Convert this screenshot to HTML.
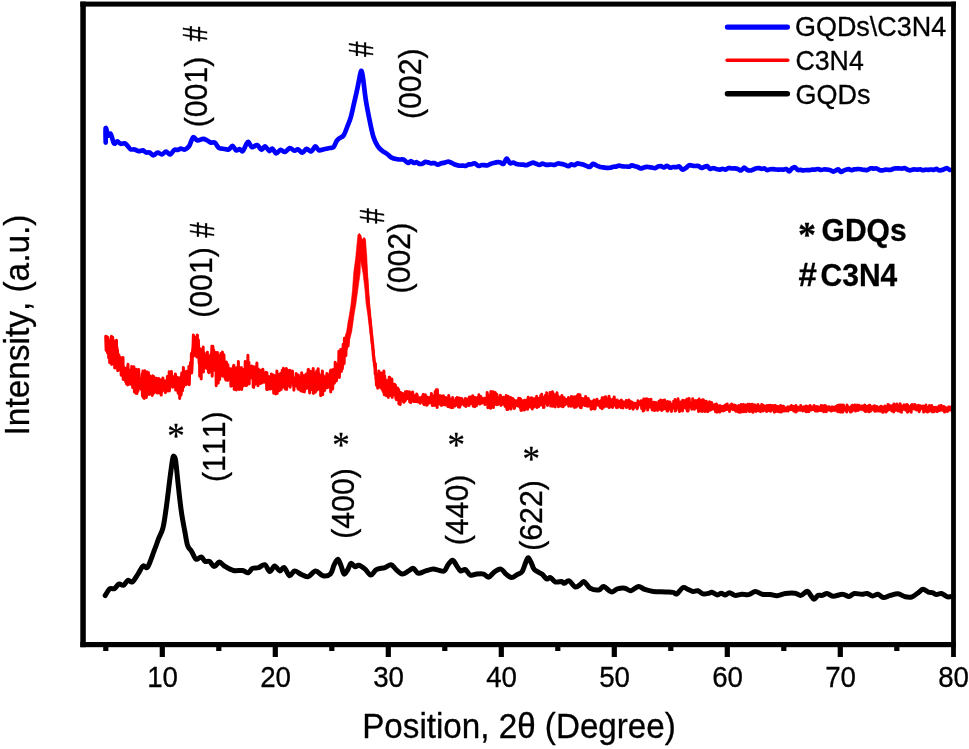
<!DOCTYPE html>
<html lang="en"><head><meta charset="utf-8"><title>XRD patterns</title>
<style>html,body{margin:0;padding:0;background:#fff}svg{display:block}text{font-kerning:none;font-variant-ligatures:none;stroke:#000;stroke-width:0.3px}</style>
</head><body>
<svg width="969" height="749" viewBox="0 0 969 749">
<rect width="969" height="749" fill="#fff"/>
<path d="M105.7 336.3L106.0 346.4L106.2 350.5L106.5 341.4L106.7 336.4L107.0 344.7L107.2 348.6L107.5 353.0L107.7 337.9L108.0 337.5L108.2 351.4L108.5 350.2L108.7 357.9L109.0 354.4L109.2 347.0L109.5 346.0L109.7 362.7L110.0 346.4L110.2 343.0L110.5 340.5L110.7 350.2L111.0 350.9L111.2 347.3L111.5 336.2L111.7 364.5L112.0 356.2L112.2 359.5L112.5 352.7L112.7 337.2L113.0 357.0L113.2 340.5L113.5 350.5L113.7 340.4L114.0 352.2L114.2 346.3L114.5 354.2L114.7 368.1L115.0 352.6L115.2 359.7L115.5 343.0L115.7 351.3L116.0 358.8L116.2 353.2L116.5 340.3L116.7 367.9L117.0 347.4L117.2 359.9L117.5 350.1L117.7 370.7L118.0 353.6L118.2 362.9L118.5 358.4L118.7 365.8L119.0 355.2L119.2 367.1L119.5 359.8L119.7 369.9L120.0 366.0L120.2 363.3L120.5 357.6L120.7 368.5L121.0 367.1L121.2 375.3L121.5 362.6L121.7 369.2L122.0 369.4L122.2 368.5L122.5 368.6L122.7 369.0L123.0 357.6L123.2 379.4L123.5 366.6L123.7 372.9L124.0 378.7L124.2 375.8L124.5 376.5L124.7 375.1L125.0 374.9L125.2 372.1L125.5 375.9L125.7 382.0L126.0 370.0L126.2 368.2L126.5 383.9L126.7 374.2L127.0 378.7L127.2 378.4L127.5 367.2L127.7 385.1L128.0 364.2L128.2 384.4L128.4 379.0L128.7 375.6L128.9 370.0L129.2 374.6L129.4 377.6L129.7 382.2L129.9 380.0L130.2 376.4L130.4 384.3L130.7 371.9L130.9 381.4L131.2 383.5L131.4 375.3L131.7 366.4L131.9 371.9L132.2 379.1L132.4 381.1L132.7 387.6L132.9 372.0L133.2 378.4L133.4 382.7L133.7 377.8L133.9 366.7L134.2 384.3L134.4 391.9L134.7 386.0L134.9 373.9L135.2 377.4L135.4 381.7L135.7 393.2L135.9 384.6L136.2 369.2L136.4 392.6L136.7 380.6L136.9 393.6L137.2 376.8L137.4 378.3L137.7 386.5L137.9 391.4L138.2 386.3L138.4 384.0L138.7 369.6L138.9 377.3L139.2 378.1L139.4 378.8L139.7 386.7L139.9 380.4L140.2 388.4L140.4 383.6L140.7 380.7L140.9 384.1L141.2 386.4L141.4 389.7L141.7 380.1L141.9 382.0L142.2 373.8L142.4 395.8L142.7 394.9L142.9 370.9L143.2 397.5L143.4 375.2L143.7 385.5L143.9 385.8L144.2 398.4L144.4 386.1L144.7 378.9L144.9 370.7L145.2 394.2L145.4 385.7L145.7 373.5L145.9 385.7L146.2 373.7L146.4 397.5L146.7 391.9L146.9 388.3L147.2 383.4L147.4 372.0L147.7 383.8L147.9 374.9L148.2 388.4L148.4 372.5L148.7 379.1L148.9 392.1L149.2 394.6L149.4 377.7L149.7 375.7L149.9 389.9L150.2 389.8L150.4 379.2L150.7 380.9L150.9 381.0L151.2 378.3L151.4 381.2L151.7 391.7L151.9 388.7L152.2 395.4L152.4 384.6L152.7 375.8L152.9 394.3L153.2 384.6L153.4 378.6L153.7 376.4L153.9 389.0L154.2 392.7L154.4 389.8L154.7 392.3L154.9 387.0L155.2 382.4L155.4 386.4L155.7 384.3L155.9 380.9L156.2 378.3L156.4 379.4L156.7 386.4L156.9 387.2L157.2 384.4L157.4 393.1L157.7 387.6L157.9 389.5L158.2 392.3L158.4 383.5L158.7 378.6L158.9 390.5L159.2 384.4L159.4 392.9L159.7 388.9L159.9 391.8L160.2 390.8L160.4 379.7L160.7 390.8L160.9 380.8L161.2 395.1L161.4 385.8L161.7 390.6L161.9 390.9L162.2 391.2L162.4 379.7L162.7 384.1L162.9 377.9L163.2 385.8L163.4 388.7L163.7 382.4L163.9 386.7L164.2 386.5L164.4 389.8L164.7 381.2L164.9 380.9L165.2 381.0L165.4 392.7L165.7 389.4L165.9 383.4L166.2 384.9L166.4 384.2L166.7 384.4L166.9 382.2L167.2 381.3L167.4 376.4L167.7 379.3L167.9 391.0L168.2 385.0L168.4 382.4L168.7 380.7L168.9 382.0L169.2 371.7L169.4 391.0L169.7 382.4L169.9 382.7L170.2 377.5L170.4 377.3L170.7 376.3L170.9 376.0L171.2 386.1L171.4 371.6L171.7 380.2L171.9 378.6L172.2 378.6L172.4 382.2L172.7 387.3L172.9 382.1L173.2 381.1L173.4 378.8L173.7 381.2L173.9 386.2L174.2 380.0L174.4 376.5L174.7 376.0L174.9 376.8L175.2 375.6L175.4 373.9L175.7 390.1L175.9 381.7L176.2 390.0L176.4 380.5L176.7 387.7L176.9 388.4L177.2 377.3L177.4 377.6L177.7 381.1L177.9 390.8L178.2 393.3L178.4 380.7L178.7 393.0L178.9 385.9L179.2 386.2L179.4 379.2L179.7 398.5L179.9 377.7L180.2 381.4L180.4 379.4L180.7 388.0L180.9 395.3L181.2 394.5L181.4 381.3L181.7 373.1L181.9 379.5L182.2 375.8L182.4 390.9L182.7 382.6L182.9 374.8L183.2 383.1L183.4 367.4L183.7 386.9L183.9 374.6L184.2 376.3L184.4 377.6L184.7 378.3L184.9 376.3L185.2 378.7L185.4 375.6L185.7 374.6L185.9 371.7L186.2 384.7L186.4 379.5L186.7 371.2L186.9 376.7L187.2 380.6L187.4 371.3L187.7 381.6L187.9 374.7L188.2 378.2L188.4 375.4L188.7 376.9L188.9 366.4L189.2 384.7L189.4 381.4L189.7 368.0L189.9 366.0L190.2 373.4L190.4 362.7L190.7 365.2L190.9 370.8L191.2 371.3L191.4 353.5L191.7 373.0L191.9 369.7L192.2 363.7L192.4 353.4L192.7 349.1L192.9 348.6L193.2 341.4L193.4 334.9L193.7 355.9L193.9 344.5L194.2 352.4L194.4 344.0L194.7 336.8L194.9 351.6L195.2 339.1L195.4 342.8L195.7 344.6L195.9 343.4L196.2 339.5L196.4 343.9L196.7 356.9L196.9 341.8L197.2 344.6L197.4 334.9L197.7 355.9L197.9 354.0L198.2 356.9L198.4 340.0L198.7 349.4L198.9 358.5L199.2 363.4L199.4 348.2L199.7 376.2L199.9 360.9L200.2 363.4L200.4 361.7L200.7 365.7L200.9 349.3L201.2 378.9L201.4 356.7L201.7 356.0L201.9 370.7L202.2 371.4L202.4 368.6L202.7 367.0L202.9 366.2L203.2 347.1L203.4 371.9L203.7 352.6L203.9 358.4L204.2 355.2L204.4 364.4L204.7 356.5L204.9 359.5L205.2 362.4L205.4 367.7L205.7 356.2L205.9 355.7L206.2 364.6L206.4 355.4L206.7 362.8L206.9 353.0L207.2 368.7L207.4 352.2L207.7 364.4L207.9 358.3L208.2 356.1L208.4 371.9L208.7 365.1L208.9 372.7L209.2 363.5L209.4 358.8L209.7 361.8L209.9 371.9L210.2 360.9L210.4 364.3L210.7 364.9L210.9 354.3L211.2 362.2L211.4 357.2L211.7 351.1L211.9 346.3L212.2 376.2L212.4 362.8L212.7 354.9L212.9 346.2L213.2 367.8L213.4 363.3L213.7 349.8L213.9 364.6L214.2 352.1L214.4 365.9L214.7 367.9L214.9 370.3L215.2 369.6L215.4 369.6L215.7 358.0L215.9 352.5L216.2 385.8L216.4 366.8L216.7 371.2L216.9 374.0L217.2 382.3L217.4 352.4L217.7 371.6L217.9 366.7L218.2 383.1L218.4 375.0L218.7 355.9L218.9 370.6L219.2 364.1L219.4 355.7L219.7 379.4L219.9 366.3L220.2 365.9L220.4 365.8L220.7 362.2L220.9 353.5L221.2 368.7L221.4 372.0L221.7 364.5L221.9 357.8L222.2 365.8L222.4 351.9L222.7 376.2L222.9 364.7L223.2 374.4L223.4 358.5L223.7 362.5L223.9 354.7L224.2 362.6L224.4 362.9L224.7 362.1L224.9 364.2L225.2 378.6L225.4 367.9L225.7 368.7L225.9 380.1L226.2 369.9L226.4 361.9L226.7 373.0L226.9 366.9L227.2 379.6L227.4 364.2L227.7 380.5L227.9 365.1L228.2 373.4L228.4 368.1L228.7 373.0L228.9 371.6L229.2 370.5L229.4 378.8L229.7 379.0L229.9 374.6L230.2 369.5L230.4 368.7L230.7 376.4L230.9 386.3L231.2 372.6L231.4 370.8L231.7 371.4L231.9 369.1L232.2 370.0L232.4 374.9L232.7 385.5L232.9 376.6L233.2 373.5L233.4 366.3L233.7 378.6L233.9 365.3L234.2 389.5L234.4 369.7L234.7 376.7L234.9 383.8L235.2 381.0L235.4 378.0L235.7 374.1L235.9 378.5L236.2 376.0L236.4 389.9L236.7 367.7L236.9 373.0L237.2 384.6L237.4 373.4L237.7 385.6L237.9 374.8L238.2 376.0L238.4 361.6L238.7 387.9L238.9 368.3L239.2 389.5L239.4 380.4L239.7 380.4L239.9 383.0L240.2 380.7L240.4 383.9L240.7 375.7L240.9 376.3L241.2 384.3L241.4 367.4L241.7 389.5L241.9 376.4L242.2 374.0L242.4 381.0L242.7 372.0L242.9 369.4L243.2 373.8L243.4 385.9L243.7 374.9L243.9 375.9L244.2 374.5L244.4 376.1L244.7 380.2L244.9 383.1L245.2 361.4L245.4 382.3L245.7 372.3L245.9 369.6L246.2 385.8L246.4 369.9L246.7 385.2L246.9 377.6L247.2 362.4L247.4 373.4L247.7 374.9L247.9 355.2L248.2 382.6L248.4 367.0L248.7 368.6L248.9 362.3L249.2 383.9L249.4 369.4L249.7 368.8L249.9 369.8L250.2 367.0L250.4 367.5L250.7 373.7L250.9 375.5L251.2 370.6L251.4 373.7L251.7 366.0L251.9 378.2L252.2 370.9L252.4 377.1L252.7 370.9L252.9 366.4L253.2 386.9L253.4 369.3L253.7 387.4L253.9 375.7L254.2 375.3L254.4 371.3L254.7 384.6L254.9 383.2L255.2 376.7L255.4 366.8L255.7 371.6L255.9 378.0L256.2 371.2L256.4 367.1L256.7 366.9L256.9 363.1L257.2 384.1L257.4 370.2L257.7 374.3L257.9 385.7L258.2 384.7L258.4 369.0L258.7 377.0L258.9 375.7L259.2 374.7L259.4 381.4L259.7 374.1L259.9 374.3L260.2 374.3L260.4 376.0L260.7 383.5L260.9 381.0L261.2 370.2L261.4 375.1L261.7 373.5L261.9 381.9L262.2 379.1L262.4 382.7L262.7 378.1L262.9 369.2L263.2 381.1L263.4 380.2L263.7 381.7L263.9 373.2L264.2 380.1L264.4 376.7L264.7 376.9L264.9 382.0L265.2 382.2L265.4 376.7L265.7 373.2L265.9 372.4L266.2 378.8L266.4 373.7L266.7 389.4L266.9 372.8L267.2 377.7L267.4 383.5L267.7 389.4L267.9 387.1L268.2 383.4L268.4 382.6L268.7 376.6L268.9 379.5L269.2 380.1L269.4 377.9L269.7 382.1L269.9 379.8L270.2 383.5L270.4 389.1L270.7 385.6L270.9 384.0L271.2 380.6L271.4 373.9L271.7 381.3L271.9 384.8L272.2 376.5L272.4 388.8L272.7 380.1L272.9 384.0L273.2 380.2L273.4 375.0L273.7 393.2L273.9 375.4L274.2 387.4L274.4 378.9L274.7 383.7L274.9 377.4L275.2 379.7L275.4 387.6L275.7 393.9L275.9 377.0L276.2 382.3L276.4 388.0L276.7 378.3L276.9 371.1L277.2 393.4L277.4 385.9L277.7 384.7L277.9 389.4L278.2 384.1L278.4 374.4L278.7 385.7L278.9 374.8L279.2 386.1L279.4 390.7L279.7 384.9L279.9 377.8L280.2 388.4L280.4 382.0L280.7 373.3L280.9 378.7L281.2 389.4L281.4 378.8L281.7 381.3L281.9 378.4L282.2 370.2L282.4 377.2L282.7 382.4L282.9 381.4L283.2 379.0L283.4 368.2L283.7 387.2L283.9 384.1L284.2 385.8L284.4 387.3L284.7 376.9L284.9 375.8L285.2 381.2L285.4 389.1L285.7 369.2L285.9 377.7L286.2 374.8L286.4 368.4L286.7 389.4L286.9 377.3L287.2 372.0L287.4 379.5L287.7 377.6L287.9 370.6L288.2 384.4L288.4 376.6L288.7 383.3L288.9 372.4L289.2 385.6L289.4 372.0L289.7 385.5L289.9 370.2L290.2 387.3L290.4 378.1L290.7 372.0L290.9 379.0L291.2 382.0L291.4 375.3L291.7 377.9L291.9 381.8L292.2 379.7L292.4 370.9L292.7 378.6L292.9 382.8L293.2 382.2L293.4 385.7L293.7 377.7L293.9 390.2L294.2 384.8L294.4 382.6L294.7 386.2L294.9 385.6L295.2 381.8L295.4 378.7L295.7 386.0L295.9 383.4L296.2 373.4L296.4 376.9L296.7 383.8L296.9 382.3L297.2 383.1L297.4 384.6L297.7 382.7L297.9 388.6L298.2 379.8L298.4 375.1L298.7 389.4L298.9 385.3L299.2 385.5L299.4 388.4L299.7 380.1L299.9 387.1L300.2 384.1L300.4 377.5L300.7 381.4L300.9 390.9L301.2 385.6L301.4 379.8L301.7 372.8L301.9 378.4L302.2 378.5L302.4 382.3L302.7 391.4L302.9 385.5L303.2 383.4L303.4 377.1L303.7 375.7L303.9 380.7L304.2 379.3L304.4 392.0L304.7 379.5L304.9 378.4L305.2 387.7L305.4 382.0L305.7 374.8L305.9 388.7L306.2 379.8L306.4 374.0L306.7 383.3L306.9 384.3L307.2 379.5L307.4 385.5L307.7 386.2L307.9 376.1L308.2 369.6L308.4 369.4L308.7 380.5L308.9 388.9L309.2 387.5L309.4 389.9L309.7 392.9L309.9 381.3L310.2 387.9L310.4 371.3L310.7 385.6L310.9 383.7L311.2 380.5L311.4 378.1L311.7 373.5L311.9 382.0L312.2 389.7L312.4 378.4L312.7 384.6L312.9 376.3L313.2 368.4L313.4 393.4L313.7 383.7L313.9 379.6L314.2 383.3L314.4 377.0L314.7 373.1L314.9 379.0L315.2 388.5L315.4 392.3L315.7 379.2L315.9 387.0L316.2 386.8L316.4 384.3L316.7 371.0L316.9 384.0L317.2 375.2L317.4 389.9L317.7 387.3L317.9 386.2L318.2 368.7L318.4 386.3L318.7 386.9L318.9 373.5L319.2 388.8L319.4 382.8L319.7 381.1L319.9 377.6L320.2 375.6L320.4 379.6L320.7 395.7L320.9 384.0L321.2 384.1L321.4 378.4L321.7 378.7L321.9 379.2L322.2 377.0L322.4 371.1L322.7 394.8L322.9 388.6L323.2 375.2L323.4 388.9L323.7 382.6L323.9 387.0L324.2 382.0L324.4 376.9L324.7 390.4L324.9 379.7L325.2 381.6L325.4 376.8L325.7 383.7L325.9 379.9L326.2 384.1L326.4 384.4L326.7 377.9L326.9 373.4L327.2 384.8L327.4 387.8L327.7 386.4L327.9 375.0L328.2 385.7L328.4 384.3L328.7 383.6L328.9 384.5L329.2 379.9L329.4 383.1L329.7 387.3L329.9 378.7L330.2 373.1L330.4 371.1L330.7 392.1L330.9 369.9L331.2 376.4L331.4 383.6L331.7 378.7L331.9 379.8L332.2 371.1L332.4 384.1L332.7 389.0L332.9 376.4L333.2 372.6L333.4 369.4L333.7 382.2L333.9 376.7L334.2 370.4L334.4 383.2L334.7 379.9L334.9 378.4L335.2 362.2L335.4 372.7L335.7 377.0L335.9 363.8L336.2 378.0L336.4 380.9L336.7 377.6L336.9 364.7L337.2 364.2L337.4 375.2L337.7 375.0L337.9 376.2L338.2 375.4L338.4 365.4L338.7 362.4L338.9 351.2L339.2 369.6L339.4 377.5L339.7 359.1L339.9 358.2L340.2 365.7L340.4 362.9L340.7 349.5L340.9 353.5L341.2 350.0L341.4 371.6L341.7 351.5L341.9 362.2L342.2 369.1L342.4 368.2L342.7 364.2L342.9 364.9L343.2 344.3L343.4 349.8L343.7 346.6L343.9 348.9L344.2 363.6L344.4 338.3L344.7 352.8L344.9 339.6L345.2 355.4L345.4 353.9L345.7 340.9L345.9 355.6L346.2 342.3L346.4 348.8L346.7 341.4L346.9 335.1L347.2 335.4L347.4 336.2L347.7 339.7L347.9 336.0L348.2 345.9L348.4 332.5L348.7 330.1L348.9 327.9L349.2 326.5L349.4 321.2L349.7 322.1L349.9 331.1L350.2 324.8L350.4 321.9L350.7 323.2L350.9 325.6L351.2 321.5L351.4 320.8L351.7 311.7L351.9 311.8L352.2 307.3L352.4 309.3L352.7 303.3L352.9 303.8L353.2 303.0L353.4 300.8L353.7 298.6L353.9 295.4L354.2 303.5L354.4 292.3L354.7 286.6L354.9 291.4L355.2 282.3L355.4 279.9L355.7 284.0L355.9 271.7L356.2 267.6L356.4 277.8L356.7 279.5L356.9 261.9L357.2 263.8L357.4 269.7L357.7 253.0L357.9 256.4L358.2 252.1L358.4 253.8L358.7 244.0L358.9 251.2L359.2 244.6L359.4 242.0L359.7 237.6L359.9 236.0L360.2 238.2L360.4 238.5L360.7 240.6L360.9 241.0L361.2 242.5L361.4 243.8L361.7 245.9L361.9 246.7L362.2 244.1L362.4 244.4L362.7 245.0L362.9 243.4L363.2 241.7L363.4 241.5L363.7 240.6L363.9 240.7L364.2 243.6L364.4 248.2L364.7 254.1L364.9 255.5L365.2 260.1L365.4 263.0L365.7 266.3L365.9 272.2L366.2 274.8L366.4 279.4L366.7 278.6L366.9 283.0L367.2 288.7L367.4 291.5L367.7 294.5L367.9 297.6L368.2 299.8L368.4 302.9L368.7 306.1L368.9 310.2L369.2 312.3L369.4 315.5L369.7 319.1L369.9 318.6L370.2 321.3L370.4 325.2L370.7 326.6L370.9 329.0L371.2 333.8L371.4 334.4L371.7 335.8L371.9 339.9L372.2 343.4L372.4 342.2L372.7 345.2L372.9 348.7L373.2 350.1L373.4 356.4L373.7 356.8L373.9 357.9L374.2 361.8L374.4 361.5L374.7 363.4L374.9 366.8L375.2 374.1L375.4 363.6L375.7 373.3L375.9 378.9L376.2 378.5L376.4 385.2L376.7 379.2L376.9 378.5L377.2 377.8L377.4 374.8L377.7 388.3L377.9 374.2L378.2 380.5L378.4 378.9L378.7 377.6L378.9 370.9L379.2 379.9L379.4 383.0L379.7 383.0L379.9 387.2L380.2 381.3L380.4 378.5L380.7 384.2L380.9 386.5L381.2 376.9L381.4 373.1L381.7 376.2L381.9 389.2L382.2 389.0L382.4 377.1L382.7 383.5L382.9 388.2L383.2 391.5L383.4 378.6L383.7 381.3L383.9 371.1L384.2 394.8L384.4 393.3L384.7 376.1L384.9 386.5L385.2 381.9L385.4 383.6L385.7 380.0L385.9 381.3L386.2 384.4L386.4 395.8L386.7 389.1L386.9 387.6L387.2 385.3L387.4 380.8L387.7 384.1L387.9 393.0L388.2 390.7L388.4 397.4L388.7 387.7L388.9 386.2L389.2 377.3L389.4 388.9L389.7 377.2L389.9 395.4L390.2 383.7L390.4 387.3L390.7 380.2L390.9 385.0L391.2 382.9L391.4 393.9L391.7 389.5L391.9 379.1L392.2 397.5L392.4 388.7L392.7 386.9L392.9 384.1L393.2 392.9L393.4 389.4L393.7 391.1L393.9 388.1L394.2 388.5L394.4 389.4L394.7 384.3L394.9 395.1L395.2 394.4L395.4 384.9L395.7 393.6L395.9 398.6L396.2 394.8L396.4 399.8L396.7 393.2L396.9 394.7L397.2 389.4L397.4 391.5L397.7 387.9L397.9 392.2L398.2 397.3L398.4 398.7L398.7 389.5L398.9 404.1L399.2 392.8L399.4 398.5L399.7 396.2L399.9 403.8L400.2 404.5L400.4 400.5L400.7 392.4L400.9 394.8L401.2 397.5L401.4 394.1L401.7 398.8L401.9 399.4L402.2 399.9L402.4 397.6L402.7 393.6L402.9 393.8L403.2 396.4L403.4 401.5L403.7 402.3L403.9 400.2L404.2 398.1L404.4 399.1L404.7 399.6L404.9 401.2L405.2 399.7L405.4 391.8L405.7 399.9L405.9 398.1L406.2 395.4L406.4 398.5L406.7 397.7L406.9 396.7L407.2 391.6L407.4 397.2L407.7 398.5L407.9 396.7L408.2 392.1L408.4 398.2L408.7 398.9L408.9 397.4L409.2 398.1L409.4 391.8L409.7 401.9L409.9 398.4L410.2 396.0L410.4 397.6L410.7 402.6L410.9 399.1L411.2 397.6L411.4 392.7L411.7 397.6L411.9 399.5L412.2 395.4L412.4 396.8L412.7 391.9L412.9 399.1L413.2 395.9L413.4 399.6L413.7 401.5L413.9 397.3L414.2 400.6L414.4 398.5L414.7 397.3L414.9 397.1L415.2 395.6L415.4 401.6L415.7 400.6L415.9 395.3L416.2 400.5L416.4 396.2L416.7 394.0L416.9 401.7L417.2 394.8L417.4 401.8L417.7 399.0L417.9 401.1L418.2 400.0L418.4 401.9L418.7 399.6L418.9 400.3L419.2 399.5L419.4 401.9L419.7 397.8L419.9 401.8L420.2 403.2L420.4 398.8L420.7 400.3L420.9 397.7L421.2 398.4L421.4 399.9L421.7 398.3L421.9 396.8L422.2 399.3L422.4 399.9L422.7 400.4L422.9 401.5L423.2 394.6L423.4 403.6L423.7 399.2L423.9 394.7L424.2 404.7L424.4 400.9L424.7 402.2L424.9 398.6L425.2 400.1L425.4 394.8L425.7 400.1L425.9 399.2L426.2 398.2L426.4 402.4L426.7 405.3L426.9 402.9L427.2 396.9L427.4 404.6L427.7 398.4L427.9 399.3L428.2 397.5L428.4 401.1L428.7 401.4L428.9 399.9L429.2 398.7L429.4 398.9L429.7 397.9L429.9 403.0L430.2 397.4L430.4 398.8L430.7 398.5L430.9 396.4L431.2 398.4L431.4 393.5L431.7 400.9L431.9 401.5L432.2 398.0L432.4 405.6L432.7 395.8L432.9 401.5L433.2 401.2L433.4 396.9L433.7 398.1L433.9 403.0L434.2 399.4L434.4 400.4L434.7 405.4L434.9 400.1L435.2 391.5L435.4 395.7L435.7 402.9L435.9 398.5L436.2 394.0L436.4 389.7L436.7 400.6L436.9 390.4L437.2 407.6L437.4 389.8L437.7 401.5L437.9 396.7L438.2 397.9L438.4 397.9L438.7 395.3L438.9 401.5L439.2 403.7L439.4 401.2L439.7 397.2L439.9 404.3L440.2 399.3L440.4 402.3L440.7 395.8L440.9 402.7L441.2 403.1L441.4 405.5L441.7 400.2L441.9 402.0L442.2 397.8L442.4 403.9L442.7 403.5L442.9 404.7L443.2 398.9L443.4 395.7L443.7 400.3L443.9 399.8L444.2 397.8L444.4 403.0L444.7 404.4L444.9 402.3L445.2 405.0L445.4 402.4L445.7 397.4L445.9 398.9L446.2 399.8L446.4 403.6L446.7 404.5L446.9 401.8L447.2 404.9L447.4 398.6L447.7 401.1L447.9 406.6L448.2 403.0L448.4 405.1L448.7 395.5L448.9 396.3L449.2 399.0L449.4 405.1L449.7 407.0L449.9 400.0L450.2 399.0L450.4 399.0L450.7 399.4L450.9 403.9L451.2 401.3L451.4 407.8L451.7 404.4L451.9 400.5L452.2 403.1L452.4 402.1L452.7 397.6L452.9 407.6L453.2 401.6L453.4 405.0L453.7 404.1L453.9 402.3L454.2 403.2L454.4 404.4L454.7 401.6L454.9 400.6L455.2 405.9L455.4 402.4L455.7 400.8L455.9 403.7L456.2 398.3L456.4 402.5L456.7 398.6L456.9 401.1L457.2 397.4L457.4 400.3L457.7 404.7L457.9 401.8L458.2 398.9L458.4 407.0L458.7 400.5L458.9 406.3L459.2 400.7L459.4 398.1L459.7 407.2L459.9 400.9L460.2 404.2L460.4 405.4L460.7 398.5L460.9 402.2L461.2 400.5L461.4 403.7L461.7 402.0L461.9 398.5L462.2 402.1L462.4 404.0L462.7 401.1L462.9 403.5L463.2 400.4L463.4 401.7L463.7 402.8L463.9 402.2L464.2 405.3L464.4 404.4L464.7 404.1L464.9 403.8L465.2 402.2L465.4 398.5L465.7 404.6L465.9 406.5L466.2 402.3L466.4 401.0L466.7 401.6L466.9 405.0L467.2 402.4L467.4 398.9L467.7 401.1L467.9 399.5L468.2 401.0L468.4 399.1L468.7 399.1L468.9 405.6L469.2 404.4L469.4 397.1L469.7 398.8L469.9 400.2L470.2 400.3L470.4 397.6L470.7 403.8L470.9 396.9L471.2 403.2L471.4 403.2L471.7 400.3L471.9 399.5L472.2 401.4L472.4 401.7L472.7 395.7L472.9 396.2L473.2 406.2L473.4 400.9L473.7 400.0L473.9 398.4L474.2 399.1L474.4 398.9L474.7 406.8L474.9 397.5L475.2 405.5L475.4 402.4L475.7 401.7L475.9 401.6L476.2 399.9L476.4 405.8L476.7 402.5L476.9 400.8L477.2 400.5L477.4 401.5L477.7 397.3L477.9 399.9L478.2 398.9L478.4 402.8L478.7 402.7L478.9 394.8L479.2 400.1L479.4 404.0L479.7 396.5L479.9 396.8L480.2 404.0L480.4 400.2L480.7 399.2L480.9 396.6L481.2 401.2L481.4 398.7L481.7 401.3L481.9 402.0L482.2 403.0L482.4 399.4L482.7 398.7L482.9 400.6L483.2 400.1L483.4 401.1L483.7 398.5L483.9 399.6L484.2 398.3L484.4 398.2L484.7 400.9L484.9 404.6L485.2 398.4L485.4 402.5L485.7 401.6L485.9 400.7L486.2 402.8L486.4 398.1L486.7 402.4L486.9 401.3L487.2 392.4L487.4 401.5L487.7 402.5L487.9 407.8L488.2 395.9L488.4 400.5L488.7 401.5L488.9 396.2L489.2 404.8L489.4 401.8L489.7 396.8L489.9 395.1L490.2 398.3L490.4 408.2L490.7 408.2L490.9 391.6L491.2 392.3L491.4 402.7L491.7 399.4L491.9 397.1L492.2 402.4L492.4 400.2L492.7 401.0L492.9 400.9L493.2 391.8L493.4 407.6L493.7 397.8L493.9 404.7L494.2 402.9L494.4 400.1L494.7 400.6L494.9 399.9L495.2 392.4L495.4 398.8L495.7 402.0L495.9 393.6L496.2 394.2L496.4 404.8L496.7 403.8L496.9 394.2L497.2 402.4L497.4 400.4L497.7 404.6L497.9 399.4L498.2 399.9L498.4 397.8L498.7 401.6L498.9 400.4L499.2 398.4L499.4 399.7L499.7 398.1L499.9 403.6L500.2 397.2L500.4 395.2L500.7 397.6L500.9 405.5L501.2 399.5L501.4 403.9L501.7 404.3L501.9 399.6L502.2 404.4L502.4 403.5L502.7 401.5L502.9 399.2L503.2 401.6L503.4 397.2L503.7 400.9L503.9 399.9L504.2 403.6L504.4 403.3L504.7 399.8L504.9 405.3L505.2 406.5L505.4 402.5L505.7 399.7L505.9 404.1L506.2 395.5L506.4 400.5L506.7 404.5L506.9 409.4L507.2 400.1L507.4 407.9L507.7 409.5L507.9 409.1L508.2 396.2L508.4 406.6L508.7 403.6L508.9 406.4L509.2 402.5L509.4 401.1L509.7 402.4L509.9 408.1L510.2 406.0L510.4 402.4L510.7 397.6L510.9 409.1L511.2 405.3L511.4 403.4L511.7 401.4L511.9 401.2L512.2 402.2L512.5 401.9L512.7 398.6L513.0 399.2L513.2 406.5L513.5 400.2L513.7 399.6L514.0 403.7L514.2 408.5L514.5 407.9L514.7 402.6L515.0 400.7L515.2 402.3L515.5 401.2L515.7 402.3L516.0 405.7L516.2 400.8L516.5 401.7L516.7 403.4L517.0 404.2L517.2 401.9L517.5 401.8L517.7 400.8L518.0 402.0L518.2 406.1L518.5 403.7L518.7 398.2L519.0 406.5L519.2 404.4L519.5 401.9L519.7 403.9L520.0 398.4L520.2 399.5L520.5 408.5L520.7 399.1L521.0 410.5L521.2 402.4L521.5 404.8L521.7 407.1L522.0 400.7L522.2 410.1L522.5 402.2L522.7 405.6L523.0 400.7L523.2 405.5L523.5 404.3L523.7 407.7L524.0 400.5L524.2 404.1L524.5 409.9L524.7 400.3L525.0 405.2L525.2 405.4L525.5 402.4L525.7 403.0L526.0 408.3L526.2 407.4L526.5 405.6L526.7 404.6L527.0 400.1L527.2 403.9L527.5 409.3L527.7 406.9L528.0 399.1L528.2 397.2L528.5 401.3L528.7 403.9L529.0 401.5L529.2 402.3L529.5 404.3L529.7 406.0L530.0 403.8L530.2 407.1L530.5 398.5L530.7 404.5L531.0 404.3L531.2 398.1L531.5 406.8L531.7 397.7L532.0 398.1L532.2 409.0L532.5 406.8L532.7 403.8L533.0 406.9L533.2 406.2L533.5 398.9L533.7 404.0L534.0 406.9L534.2 401.8L534.5 402.5L534.7 400.8L535.0 404.6L535.2 400.4L535.5 400.2L535.7 398.1L536.0 399.1L536.2 402.7L536.5 403.4L536.7 396.2L537.0 407.6L537.2 402.9L537.5 402.9L537.7 405.9L538.0 400.0L538.2 400.3L538.5 403.3L538.7 406.6L539.0 401.3L539.2 401.2L539.5 398.2L539.7 400.1L540.0 404.5L540.2 404.1L540.5 405.0L540.7 395.5L541.0 404.0L541.2 397.9L541.5 403.1L541.7 394.2L542.0 400.6L542.2 397.8L542.5 405.3L542.7 401.2L543.0 405.4L543.2 399.1L543.5 407.6L543.7 399.0L544.0 407.4L544.2 398.8L544.5 396.9L544.7 403.7L545.0 398.9L545.2 400.1L545.5 395.3L545.7 399.0L546.0 400.6L546.2 397.5L546.5 401.6L546.7 392.7L547.0 403.4L547.2 398.4L547.5 405.5L547.7 398.5L548.0 397.3L548.2 398.1L548.5 400.8L548.7 402.0L549.0 397.9L549.2 396.5L549.5 401.2L549.7 402.8L550.0 392.6L550.2 395.3L550.5 396.7L550.7 406.1L551.0 404.2L551.2 402.4L551.5 401.2L551.7 394.6L552.0 403.7L552.2 397.3L552.5 391.8L552.7 406.2L553.0 393.3L553.2 404.7L553.5 400.0L553.7 395.6L554.0 400.0L554.2 396.0L554.5 400.1L554.7 396.9L555.0 394.9L555.2 406.9L555.5 397.6L555.7 403.3L556.0 399.5L556.2 402.2L556.5 395.1L556.7 396.0L557.0 392.8L557.2 403.5L557.5 401.5L557.7 395.8L558.0 402.9L558.2 402.1L558.5 406.8L558.7 401.0L559.0 403.3L559.2 402.3L559.5 402.9L559.7 400.2L560.0 399.0L560.2 402.7L560.5 404.5L560.7 396.7L561.0 396.9L561.2 400.5L561.5 406.3L561.7 400.0L562.0 395.5L562.2 403.3L562.5 403.1L562.7 406.7L563.0 401.5L563.2 406.7L563.5 398.9L563.7 403.7L564.0 401.5L564.2 397.7L564.5 400.4L564.7 405.0L565.0 404.4L565.2 400.3L565.5 404.4L565.7 403.9L566.0 403.9L566.2 402.3L566.5 402.4L566.7 399.4L567.0 401.5L567.2 402.0L567.5 399.9L567.7 401.1L568.0 402.2L568.2 402.4L568.5 397.6L568.7 406.2L569.0 400.9L569.2 402.5L569.5 400.9L569.7 402.7L570.0 400.6L570.2 404.9L570.5 401.2L570.7 398.7L571.0 403.8L571.2 406.3L571.5 396.4L571.7 401.3L572.0 401.9L572.2 404.6L572.5 405.9L572.7 401.2L573.0 397.1L573.2 403.6L573.5 404.6L573.7 403.0L574.0 401.8L574.2 399.1L574.5 407.5L574.7 397.8L575.0 396.8L575.2 404.6L575.5 402.4L575.7 403.6L576.0 402.6L576.2 406.9L576.5 406.1L576.7 399.6L577.0 404.7L577.2 397.4L577.5 395.6L577.7 405.4L578.0 399.8L578.2 394.5L578.5 401.2L578.7 398.9L579.0 403.0L579.2 401.0L579.5 398.4L579.7 398.6L580.0 394.7L580.2 407.6L580.5 401.8L580.7 397.8L581.0 403.0L581.2 407.8L581.5 403.6L581.7 405.5L582.0 403.2L582.2 398.4L582.5 400.8L582.7 402.1L583.0 403.4L583.2 399.9L583.5 404.1L583.7 399.7L584.0 402.4L584.2 402.2L584.5 398.5L584.7 405.6L585.0 402.6L585.2 402.8L585.5 402.5L585.7 396.4L586.0 398.3L586.2 399.9L586.5 405.9L586.7 401.1L587.0 404.8L587.2 399.9L587.5 400.5L587.7 401.7L588.0 406.3L588.2 398.4L588.5 402.8L588.7 404.6L589.0 403.8L589.2 403.5L589.5 405.8L589.7 404.4L590.0 400.9L590.2 405.5L590.5 401.7L590.7 402.9L591.0 407.9L591.2 409.2L591.5 408.0L591.7 405.3L592.0 402.1L592.2 402.3L592.5 408.6L592.7 405.2L593.0 400.9L593.2 408.5L593.5 406.0L593.7 407.9L594.0 405.7L594.2 400.0L594.5 400.5L594.7 409.1L595.0 404.3L595.2 408.4L595.5 402.9L595.7 404.3L596.0 404.4L596.2 404.2L596.5 401.8L596.7 401.2L597.0 399.3L597.2 405.1L597.5 403.7L597.7 404.7L598.0 401.3L598.2 404.1L598.5 401.4L598.7 401.3L599.0 404.8L599.2 405.6L599.5 405.4L599.7 403.6L600.0 402.7L600.2 407.5L600.5 407.0L600.7 401.8L601.0 400.5L601.2 404.5L601.5 404.3L601.7 400.8L602.0 408.8L602.2 397.7L602.5 400.8L602.7 403.9L603.0 406.0L603.2 397.7L603.5 401.7L603.7 407.2L604.0 407.1L604.2 402.1L604.5 402.9L604.7 400.1L605.0 403.9L605.2 399.5L605.5 396.7L605.7 397.9L606.0 402.7L606.2 398.4L606.5 405.8L606.7 406.3L607.0 405.4L607.2 404.3L607.5 405.8L607.7 403.0L608.0 404.9L608.2 403.5L608.5 404.5L608.7 398.7L609.0 396.2L609.2 407.6L609.5 404.6L609.7 403.6L610.0 399.6L610.2 399.0L610.5 400.3L610.7 404.8L611.0 401.8L611.2 401.5L611.5 400.1L611.7 401.9L612.0 407.1L612.2 400.3L612.5 401.3L612.7 407.4L613.0 404.5L613.2 399.1L613.5 405.6L613.7 398.9L614.0 404.1L614.2 397.0L614.5 399.8L614.7 405.2L615.0 401.0L615.2 400.7L615.5 402.9L615.7 402.8L616.0 401.5L616.2 401.0L616.5 407.7L616.7 406.9L617.0 403.8L617.2 399.9L617.5 401.6L617.7 402.3L618.0 404.3L618.2 407.2L618.5 401.8L618.7 403.5L619.0 402.1L619.2 403.5L619.5 401.5L619.7 404.2L620.0 406.1L620.2 402.4L620.5 402.6L620.7 403.7L621.0 400.3L621.2 407.7L621.5 400.3L621.7 402.7L622.0 401.5L622.2 407.0L622.5 402.5L622.7 402.5L623.0 407.9L623.2 403.4L623.5 402.0L623.7 403.7L624.0 404.2L624.2 402.2L624.5 403.5L624.7 403.4L625.0 405.4L625.2 405.5L625.5 405.7L625.7 403.8L626.0 405.6L626.2 400.5L626.5 407.6L626.7 404.9L627.0 403.2L627.2 406.7L627.5 401.0L627.7 402.1L628.0 402.4L628.2 403.9L628.5 401.5L628.7 401.6L629.0 400.0L629.2 404.4L629.5 402.5L629.7 408.6L630.0 406.0L630.2 401.6L630.5 407.3L630.7 404.5L631.0 406.8L631.2 401.7L631.5 407.0L631.7 406.9L632.0 403.3L632.2 402.3L632.5 403.4L632.7 405.0L633.0 409.2L633.2 408.9L633.5 408.1L633.7 403.8L634.0 403.6L634.2 405.4L634.5 403.7L634.7 403.2L635.0 403.9L635.2 406.7L635.5 404.3L635.7 405.1L636.0 403.8L636.2 404.0L636.5 403.6L636.7 408.0L637.0 405.2L637.2 408.7L637.5 404.1L637.7 407.5L638.0 400.7L638.2 403.4L638.5 404.4L638.7 402.8L639.0 404.3L639.2 401.9L639.5 404.2L639.7 402.7L640.0 404.7L640.2 403.8L640.5 401.7L640.7 403.5L641.0 404.8L641.2 400.8L641.5 405.0L641.7 408.6L642.0 404.1L642.2 406.5L642.5 406.7L642.7 402.3L643.0 409.0L643.2 411.0L643.5 401.5L643.7 399.1L644.0 410.5L644.2 409.5L644.5 399.1L644.7 408.5L645.0 405.3L645.2 400.8L645.5 402.3L645.7 401.6L646.0 402.1L646.2 406.1L646.5 404.3L646.7 398.8L647.0 403.9L647.2 406.4L647.5 405.2L647.7 410.1L648.0 399.3L648.2 405.7L648.5 405.0L648.7 407.1L649.0 400.9L649.2 401.0L649.5 404.4L649.7 405.2L650.0 399.5L650.2 406.1L650.5 405.0L650.7 407.2L651.0 399.2L651.2 406.5L651.5 402.4L651.7 403.6L652.0 407.3L652.2 410.0L652.5 405.5L652.7 404.7L653.0 408.8L653.2 402.5L653.5 404.6L653.7 403.6L654.0 402.2L654.2 405.6L654.5 410.6L654.7 405.8L655.0 406.5L655.2 405.0L655.5 408.3L655.7 405.6L656.0 402.6L656.2 405.4L656.5 409.1L656.7 404.9L657.0 408.5L657.2 404.9L657.5 410.5L657.7 405.9L658.0 406.9L658.2 404.4L658.5 407.4L658.7 404.6L659.0 401.2L659.2 406.0L659.5 401.9L659.7 409.2L660.0 407.3L660.2 405.2L660.5 407.0L660.7 400.0L661.0 400.5L661.2 409.9L661.5 407.0L661.7 410.4L662.0 400.9L662.2 404.1L662.5 406.2L662.7 406.4L663.0 400.6L663.2 402.7L663.5 409.3L663.7 403.6L664.0 406.8L664.2 401.4L664.5 402.7L664.7 400.1L665.0 406.0L665.2 408.5L665.5 405.5L665.7 404.5L666.0 406.0L666.2 406.6L666.5 404.4L666.7 406.9L667.0 410.9L667.2 411.0L667.5 403.6L667.7 401.6L668.0 410.9L668.2 408.2L668.5 408.9L668.7 407.1L669.0 404.6L669.2 408.2L669.5 408.7L669.7 408.9L670.0 402.0L670.2 408.4L670.5 404.2L670.7 404.2L671.0 406.4L671.2 404.2L671.5 411.4L671.7 407.1L672.0 406.1L672.2 404.7L672.5 406.1L672.7 404.6L673.0 407.2L673.2 408.1L673.5 408.0L673.7 401.3L674.0 404.3L674.2 405.6L674.5 401.4L674.7 406.6L675.0 399.5L675.2 411.1L675.5 406.6L675.7 403.3L676.0 410.4L676.2 408.7L676.5 403.5L676.7 406.8L677.0 407.7L677.2 402.8L677.5 404.1L677.7 407.6L678.0 398.8L678.2 400.9L678.5 406.3L678.7 407.3L679.0 402.2L679.2 408.0L679.5 411.6L679.7 405.9L680.0 405.1L680.2 405.4L680.5 401.9L680.7 407.0L681.0 405.8L681.2 407.6L681.5 409.9L681.7 405.3L682.0 405.8L682.2 406.2L682.5 410.9L682.7 400.3L683.0 405.1L683.2 403.1L683.5 405.5L683.7 407.9L684.0 405.3L684.2 407.5L684.5 405.7L684.7 402.7L685.0 402.9L685.2 400.5L685.5 405.8L685.7 403.8L686.0 407.9L686.2 408.3L686.5 402.1L686.7 401.4L687.0 399.1L687.2 410.9L687.5 405.7L687.7 407.1L688.0 403.8L688.2 411.0L688.5 402.5L688.7 406.5L689.0 403.7L689.2 398.6L689.5 404.5L689.7 404.6L690.0 407.0L690.2 404.7L690.5 402.7L690.7 403.4L691.0 404.1L691.2 407.6L691.5 404.2L691.7 409.2L692.0 407.9L692.2 402.7L692.5 408.5L692.7 398.7L693.0 405.2L693.2 402.0L693.5 404.8L693.7 408.9L694.0 405.2L694.2 404.6L694.5 409.3L694.7 402.7L695.0 402.5L695.2 408.3L695.5 407.2L695.7 400.6L696.0 405.7L696.2 407.7L696.5 404.7L696.7 403.9L697.0 405.7L697.2 405.9L697.5 403.0L697.7 407.9L698.0 400.2L698.2 405.0L698.5 411.5L698.7 401.9L699.0 405.1L699.2 399.0L699.5 402.6L699.7 401.6L700.0 405.5L700.2 403.7L700.5 411.1L700.7 402.4L701.0 405.2L701.2 406.0L701.5 407.3L701.7 408.1L702.0 400.4L702.2 411.5L702.5 404.4L702.7 399.7L703.0 410.9L703.2 404.1L703.5 400.1L703.7 406.1L704.0 403.8L704.2 406.7L704.5 403.4L704.7 406.0L705.0 411.6L705.2 409.3L705.5 406.4L705.7 403.2L706.0 410.3L706.2 401.3L706.5 402.2L706.7 409.9L707.0 404.6L707.2 410.1L707.5 408.0L707.7 411.7L708.0 411.3L708.2 408.1L708.5 405.0L708.7 408.2L709.0 410.4L709.2 407.1L709.5 401.8L709.7 405.9L710.0 406.0L710.2 406.9L710.5 406.2L710.7 409.9L711.0 404.1L711.2 408.3L711.5 402.6L711.7 402.7L712.0 405.0L712.2 405.7L712.5 405.4L712.7 405.9L713.0 409.0L713.2 409.0L713.5 407.9L713.7 408.2L714.0 406.3L714.2 405.8L714.5 404.9L714.7 407.1L715.0 405.7L715.2 404.4L715.5 411.8L715.7 409.2L716.0 410.9L716.2 406.2L716.5 404.0L716.7 405.8L717.0 412.2L717.2 409.6L717.5 407.2L717.7 410.9L718.0 407.2L718.2 411.6L718.5 407.3L718.7 407.3L719.0 409.6L719.2 405.7L719.5 407.8L719.7 412.1L720.0 409.0L720.2 405.8L720.5 407.6L720.7 408.0L721.0 406.5L721.2 409.0L721.5 410.7L721.7 408.2L722.0 409.9L722.2 408.7L722.5 408.4L722.7 406.5L723.0 410.1L723.2 410.9L723.5 407.2L723.7 406.3L724.0 409.2L724.2 408.3L724.5 410.4L724.7 409.1L725.0 407.8L725.2 405.2L725.5 409.4L725.7 408.3L726.0 405.5L726.2 405.0L726.5 404.3L726.7 409.4L727.0 407.2L727.2 404.0L727.5 406.3L727.7 406.8L728.0 407.9L728.2 408.2L728.5 407.4L728.7 409.6L729.0 410.2L729.2 407.6L729.5 411.4L729.7 407.8L730.0 406.3L730.2 408.4L730.5 405.1L730.7 407.5L731.0 405.9L731.2 407.2L731.5 408.5L731.7 404.0L732.0 408.9L732.2 408.6L732.5 407.6L732.7 409.6L733.0 408.8L733.2 407.3L733.5 406.0L733.7 409.6L734.0 409.7L734.2 405.0L734.5 406.6L734.7 405.6L735.0 409.8L735.2 406.9L735.5 405.5L735.7 411.2L736.0 409.0L736.2 408.6L736.5 408.6L736.7 407.7L737.0 408.2L737.2 410.0L737.5 409.0L737.7 407.1L738.0 408.3L738.2 412.0L738.5 406.9L738.7 405.4L739.0 408.3L739.2 405.7L739.5 412.2L739.7 409.4L740.0 409.3L740.2 408.9L740.5 412.2L740.7 406.0L741.0 408.0L741.2 404.6L741.5 410.7L741.7 407.9L742.0 411.8L742.2 407.5L742.5 405.9L742.7 406.6L743.0 409.8L743.2 406.4L743.5 404.4L743.7 411.8L744.0 406.6L744.2 406.9L744.5 411.5L744.7 405.9L745.0 408.8L745.2 409.8L745.5 406.6L745.7 405.0L746.0 411.2L746.2 411.7L746.5 407.6L746.7 405.7L747.0 409.9L747.2 408.1L747.5 406.5L747.7 407.4L748.0 404.2L748.2 406.5L748.5 405.7L748.7 405.5L749.0 409.4L749.2 408.7L749.5 411.6L749.7 404.2L750.0 406.8L750.2 406.5L750.5 410.9L750.7 410.3L751.0 408.4L751.2 408.4L751.5 406.7L751.7 407.2L752.0 407.3L752.2 404.3L752.5 412.0L752.7 409.7L753.0 412.2L753.2 410.7L753.5 409.2L753.7 409.9L754.0 404.9L754.2 406.2L754.5 409.9L754.7 407.5L755.0 405.0L755.2 408.2L755.5 405.7L755.7 408.3L756.0 411.4L756.2 406.0L756.5 407.4L756.7 409.4L757.0 408.2L757.2 408.7L757.5 406.6L757.7 407.6L758.0 404.5L758.2 408.0L758.5 410.8L758.7 406.1L759.0 407.9L759.2 409.7L759.5 410.7L759.7 410.6L760.0 406.6L760.2 407.5L760.5 411.7L760.7 407.4L761.0 408.9L761.2 406.7L761.5 407.1L761.7 404.6L762.0 407.3L762.2 404.7L762.5 406.4L762.7 406.5L763.0 411.0L763.2 409.8L763.5 409.1L763.7 407.4L764.0 405.7L764.2 409.3L764.5 406.8L764.7 408.2L765.0 410.2L765.2 408.0L765.5 408.4L765.7 406.5L766.0 410.4L766.2 409.4L766.5 409.8L766.7 411.5L767.0 405.4L767.2 408.5L767.5 409.6L767.7 409.1L768.0 409.0L768.2 409.3L768.5 405.6L768.7 408.3L769.0 410.6L769.2 408.4L769.5 408.1L769.7 410.0L770.0 405.2L770.2 409.2L770.5 411.3L770.7 408.0L771.0 407.0L771.2 409.5L771.5 407.7L771.7 407.0L772.0 408.8L772.2 405.5L772.5 409.7L772.7 406.3L773.0 407.5L773.2 409.9L773.5 408.5L773.7 409.0L774.0 411.1L774.2 411.3L774.5 412.1L774.7 405.4L775.0 411.8L775.2 405.6L775.5 410.0L775.7 410.9L776.0 407.2L776.2 409.4L776.5 410.1L776.7 408.3L777.0 407.4L777.2 411.3L777.5 406.2L777.7 408.9L778.0 410.3L778.2 409.0L778.5 411.4L778.7 411.3L779.0 409.4L779.2 411.8L779.5 409.9L779.7 406.4L780.0 408.0L780.2 409.1L780.5 409.0L780.7 405.6L781.0 412.1L781.2 405.8L781.5 406.6L781.7 409.4L782.0 409.0L782.2 411.4L782.5 409.0L782.7 409.3L783.0 409.9L783.2 407.3L783.5 406.3L783.7 407.8L784.0 410.4L784.2 408.1L784.5 410.9L784.7 407.7L785.0 410.0L785.2 408.7L785.5 410.1L785.7 408.7L786.0 409.0L786.2 407.9L786.5 410.9L786.7 408.6L787.0 409.6L787.2 409.8L787.5 407.1L787.7 407.2L788.0 408.6L788.2 410.9L788.5 406.9L788.7 406.9L789.0 407.0L789.2 408.0L789.5 406.9L789.7 407.3L790.0 409.6L790.2 406.8L790.5 408.7L790.7 406.7L791.0 408.4L791.2 409.6L791.5 405.4L791.7 408.8L792.0 409.1L792.2 408.6L792.5 409.2L792.7 409.4L793.0 406.5L793.2 408.5L793.5 409.9L793.7 411.0L794.0 406.4L794.2 407.7L794.5 406.4L794.7 408.7L795.0 406.9L795.2 407.1L795.5 410.1L795.7 412.1L796.0 405.5L796.2 411.6L796.5 407.2L796.7 409.9L797.0 409.4L797.2 410.9L797.5 408.4L797.7 407.4L798.0 408.7L798.2 410.1L798.5 407.3L798.7 409.5L799.0 408.8L799.2 409.1L799.5 408.8L799.7 409.8L800.0 410.2L800.2 408.3L800.5 408.2L800.7 405.6L801.0 407.4L801.2 406.3L801.5 410.0L801.7 407.0L802.0 407.7L802.2 409.7L802.5 410.5L802.7 410.9L803.0 407.4L803.2 409.2L803.5 410.6L803.7 407.4L804.0 408.5L804.2 406.8L804.5 407.8L804.7 410.0L805.0 409.0L805.2 408.3L805.5 408.0L805.7 411.4L806.0 410.1L806.2 406.0L806.5 411.8L806.7 408.2L807.0 408.6L807.2 408.1L807.5 407.9L807.7 409.9L808.0 406.5L808.2 408.9L808.5 408.3L808.7 411.7L809.0 409.5L809.2 409.6L809.5 409.7L809.7 409.8L810.0 409.0L810.2 405.6L810.5 409.5L810.7 408.3L811.0 410.0L811.2 409.3L811.5 407.9L811.7 407.3L812.0 407.1L812.2 409.3L812.5 408.6L812.7 407.3L813.0 408.2L813.2 409.4L813.5 407.7L813.7 408.6L814.0 407.8L814.2 405.5L814.5 409.0L814.7 408.9L815.0 410.2L815.2 411.0L815.5 407.6L815.7 409.8L816.0 409.2L816.2 408.9L816.5 410.2L816.7 410.3L817.0 406.6L817.2 411.3L817.5 408.5L817.7 407.6L818.0 407.6L818.2 408.4L818.5 406.9L818.7 410.6L819.0 409.5L819.2 407.2L819.5 410.2L819.7 409.2L820.0 408.9L820.2 410.4L820.5 408.6L820.7 408.3L821.0 409.6L821.2 405.6L821.5 406.7L821.7 409.6L822.0 410.6L822.2 405.8L822.5 408.7L822.7 407.6L823.0 408.2L823.2 409.8L823.5 411.3L823.7 411.8L824.0 410.4L824.2 409.8L824.5 409.0L824.7 405.5L825.0 409.4L825.2 406.6L825.5 406.8L825.7 408.9L826.0 405.9L826.2 411.8L826.5 409.7L826.7 409.3L827.0 409.5L827.2 409.1L827.5 408.8L827.7 409.9L828.0 407.5L828.2 409.2L828.5 409.0L828.7 410.0L829.0 406.7L829.2 409.1L829.5 408.4L829.7 409.8L830.0 409.6L830.2 409.0L830.5 409.5L830.7 409.4L831.0 411.1L831.2 409.2L831.5 409.6L831.7 407.0L832.0 408.3L832.2 410.0L832.5 410.5L832.7 406.9L833.0 408.6L833.2 408.1L833.5 408.7L833.7 407.8L834.0 407.9L834.2 408.5L834.5 408.8L834.7 410.4L835.0 407.1L835.2 406.9L835.5 410.0L835.7 409.5L836.0 408.3L836.2 406.5L836.5 410.5L836.7 406.7L837.0 410.6L837.2 409.0L837.5 405.4L837.7 411.8L838.0 410.1L838.2 408.6L838.5 405.5L838.7 407.3L839.0 405.1L839.2 409.3L839.5 410.2L839.7 410.4L840.0 406.2L840.2 412.1L840.5 411.9L840.7 408.4L841.0 405.1L841.2 407.0L841.5 410.5L841.7 412.1L842.0 407.6L842.2 405.3L842.5 406.8L842.7 412.0L843.0 408.6L843.2 406.1L843.5 405.1L843.7 409.7L844.0 410.0L844.2 407.7L844.5 408.2L844.7 408.7L845.0 408.0L845.2 407.6L845.5 407.5L845.7 407.5L846.0 410.8L846.2 409.3L846.5 410.4L846.7 411.9L847.0 405.1L847.2 408.5L847.5 410.3L847.7 408.2L848.0 407.5L848.2 409.3L848.5 407.6L848.7 407.1L849.0 408.0L849.2 408.7L849.5 408.6L849.7 410.2L850.0 408.6L850.2 407.7L850.5 412.1L850.7 408.2L851.0 408.1L851.2 408.3L851.5 407.3L851.7 405.7L852.0 408.9L852.2 411.2L852.5 405.3L852.7 407.2L853.0 409.3L853.2 407.4L853.5 409.5L853.7 408.5L854.0 406.6L854.2 408.2L854.5 407.7L854.7 409.6L855.0 405.1L855.2 409.3L855.5 411.0L855.7 408.9L856.0 409.0L856.2 407.6L856.5 409.2L856.7 408.3L857.0 406.3L857.2 406.5L857.5 405.1L857.7 409.4L858.0 408.9L858.2 410.5L858.5 409.0L858.7 409.8L859.0 406.2L859.2 405.2L859.5 407.6L859.7 408.0L860.0 409.2L860.2 408.3L860.5 408.3L860.7 408.7L861.0 409.0L861.2 408.9L861.5 409.2L861.7 407.7L862.0 408.4L862.2 405.9L862.5 406.6L862.7 408.1L863.0 409.4L863.2 407.2L863.5 406.1L863.7 410.3L864.0 407.1L864.2 405.5L864.5 406.8L864.7 406.5L865.0 405.1L865.2 407.9L865.5 411.6L865.7 407.2L866.0 407.1L866.2 410.6L866.5 408.7L866.7 408.4L867.0 411.0L867.2 406.5L867.5 408.5L867.7 409.5L868.0 408.9L868.2 406.5L868.5 406.9L868.7 411.8L869.0 405.4L869.2 411.8L869.5 410.5L869.7 405.3L870.0 408.5L870.2 405.4L870.5 411.1L870.7 406.7L871.0 408.7L871.2 406.8L871.5 408.8L871.7 409.1L872.0 408.5L872.2 407.9L872.5 409.0L872.7 408.0L873.0 407.5L873.2 409.6L873.5 410.1L873.7 405.9L874.0 406.6L874.2 407.0L874.5 409.0L874.7 405.8L875.0 411.3L875.2 408.5L875.5 408.7L875.7 410.1L876.0 407.0L876.2 409.1L876.5 409.2L876.7 410.8L877.0 406.4L877.2 411.0L877.5 409.5L877.7 408.8L878.0 410.4L878.2 407.9L878.5 408.0L878.7 410.0L879.0 407.7L879.2 410.4L879.5 411.0L879.7 408.7L880.0 408.7L880.2 407.0L880.5 406.5L880.7 411.1L881.0 406.3L881.2 408.4L881.5 408.9L881.7 406.5L882.0 406.9L882.2 406.9L882.5 412.2L882.7 409.0L883.0 411.0L883.2 412.2L883.5 410.3L883.7 410.9L884.0 407.3L884.2 406.8L884.5 411.1L884.7 411.1L885.0 406.1L885.2 410.5L885.5 408.8L885.7 409.8L886.0 410.1L886.2 412.0L886.5 406.9L886.7 408.2L887.0 410.7L887.2 407.6L887.5 409.3L887.7 408.0L888.0 404.6L888.2 407.0L888.5 410.0L888.7 407.0L889.0 404.9L889.2 407.1L889.5 408.3L889.7 409.1L890.0 408.8L890.2 409.2L890.5 405.9L890.7 406.8L891.0 406.5L891.2 407.1L891.5 409.0L891.7 410.9L892.0 407.6L892.2 410.3L892.5 410.4L892.7 405.6L893.0 406.3L893.2 408.3L893.5 405.1L893.7 412.0L894.0 404.0L894.2 405.4L894.5 409.7L894.7 406.4L895.0 409.5L895.2 405.8L895.5 410.3L895.7 406.7L896.0 409.5L896.2 410.1L896.5 404.7L896.7 406.0L897.0 404.1L897.2 405.5L897.5 409.9L897.7 407.9L898.0 409.8L898.2 411.0L898.5 410.2L898.7 409.5L899.0 406.9L899.2 407.0L899.5 408.6L899.7 409.8L900.0 410.3L900.2 403.8L900.5 411.8L900.7 407.7L901.0 411.6L901.2 408.5L901.5 412.2L901.7 406.3L902.0 409.8L902.2 408.4L902.5 409.6L902.7 406.3L903.0 408.7L903.2 407.8L903.5 407.3L903.7 405.3L904.0 404.9L904.2 407.2L904.5 409.2L904.7 408.5L905.0 408.5L905.2 408.7L905.5 405.1L905.7 410.3L906.0 408.2L906.2 406.4L906.5 406.9L906.7 410.2L907.0 408.5L907.2 404.5L907.5 412.2L907.7 404.9L908.0 411.7L908.2 409.9L908.5 406.0L908.7 410.7L909.0 410.8L909.2 410.3L909.5 409.5L909.7 408.8L910.0 408.6L910.2 407.0L910.5 408.7L910.7 410.8L911.0 407.9L911.2 412.2L911.5 404.9L911.7 408.2L912.0 405.1L912.2 404.6L912.5 408.7L912.7 407.5L913.0 407.1L913.2 406.0L913.5 407.7L913.7 404.9L914.0 407.8L914.2 407.2L914.5 405.7L914.7 409.1L915.0 404.5L915.2 409.1L915.5 408.8L915.7 409.3L916.0 408.5L916.2 409.9L916.5 407.8L916.7 406.1L917.0 409.1L917.2 406.7L917.5 407.6L917.7 408.6L918.0 406.5L918.2 410.3L918.5 405.3L918.7 410.8L919.0 408.3L919.2 411.7L919.5 410.5L919.7 409.7L920.0 409.0L920.2 408.6L920.5 405.7L920.7 407.3L921.0 406.6L921.2 407.0L921.5 408.2L921.7 406.9L922.0 408.7L922.2 407.9L922.5 407.5L922.7 409.2L923.0 409.3L923.2 405.9L923.5 407.9L923.7 412.1L924.0 408.5L924.2 409.4L924.5 406.8L924.7 410.3L925.0 411.4L925.2 409.6L925.5 408.3L925.7 408.6L926.0 405.0L926.2 409.6L926.5 408.0L926.7 409.3L927.0 409.2L927.2 409.0L927.5 412.1L927.7 410.3L928.0 407.4L928.2 409.7L928.5 409.7L928.7 408.7L929.0 411.2L929.2 407.9L929.5 405.4L929.7 406.7L930.0 409.3L930.2 406.9L930.5 408.9L930.7 405.9L931.0 409.3L931.2 408.2L931.5 407.0L931.7 405.4L932.0 411.8L932.2 410.3L932.5 409.1L932.7 408.3L933.0 409.0L933.2 410.3L933.5 409.5L933.7 411.8L934.0 407.4L934.2 410.2L934.5 408.9L934.7 407.6L935.0 409.8L935.2 410.2L935.5 410.4L935.7 409.6L936.0 407.2L936.2 409.0L936.5 409.4L936.7 411.6L937.0 409.0L937.2 409.0L937.5 411.5L937.7 408.9L938.0 408.0L938.2 409.3L938.5 410.1L938.7 409.0L939.0 405.9L939.2 408.1L939.5 410.5L939.7 407.5L940.0 410.3L940.2 409.1L940.5 407.4L940.7 410.2L941.0 405.4L941.2 405.4L941.5 406.2L941.7 409.7L942.0 408.4L942.2 409.9L942.5 408.7L942.7 409.1L943.0 408.0L943.2 408.2L943.5 410.5L943.7 410.1L944.0 406.6L944.2 409.8L944.5 412.1L944.7 410.1L945.0 407.3L945.2 410.1L945.5 409.2L945.7 408.3L946.0 410.5L946.2 410.9L946.5 408.0L946.7 409.1L947.0 408.2L947.2 408.9L947.5 411.5L947.7 408.2L948.0 409.8L948.2 409.3L948.5 409.1L948.7 407.1L949.0 409.9L949.2 407.1L949.5 410.1L949.7 408.8L950.0 409.2L950.2 408.2L950.5 407.6L950.7 407.3L951.0 409.0L951.2 408.8L951.5 409.4L951.7 408.5L952.0 406.0L952.2 411.8L952.5 409.2" fill="none" stroke="#ff0000" stroke-width="3.0" stroke-linejoin="round" stroke-linecap="round"/>
<path d="M341.6 349.2L346.6 331.5L350.4 308.7L351.0 304.5L352.6 289.0L353.7 273.0L355.8 257.0L357.4 240.0L357.9 235.0L359.3 233.2L360.7 235.5L361.9 241.0L363.0 238.3L364.2 237.4L365.4 239.0L366.8 257.0L367.5 273.0L368.6 289.0L369.7 304.5L370.7 313.7L373.2 339.1L375.3 361.9L373.6 367.0L370.7 339.1L367.7 313.7L366.2 304.5L364.9 289.0L363.0 273.0L360.5 260.0L360.1 273.0L357.9 289.0L355.8 304.5L354.2 313.7L351.7 331.5L347.9 346.7L344.0 358.0Z" fill="#ff0000" stroke="#ff0000" stroke-width="0.6" stroke-linejoin="round"/>
<path d="M105.7 142.6C105.7 140.2 105.3 129.3 105.7 128.1C106.1 126.9 107.4 134.5 108.2 135.5C109.0 136.5 109.7 132.6 110.7 133.9C111.7 135.2 112.9 142.1 114.0 143.3C115.1 144.5 116.2 141.2 117.3 141.3C118.4 141.4 119.4 143.5 120.6 143.8C121.8 144.1 123.6 143.0 124.7 143.3C125.8 143.6 126.2 144.4 127.2 145.4C128.2 146.4 129.3 148.5 130.5 149.2C131.7 149.9 133.2 149.2 134.6 149.5C136.0 149.8 137.4 151.0 138.8 151.2C140.2 151.3 141.7 150.2 142.9 150.4C144.1 150.6 145.1 152.2 146.2 152.5C147.3 152.8 148.3 152.0 149.5 152.5C150.7 153.0 152.2 155.3 153.6 155.3C155.0 155.3 156.3 152.6 157.7 152.5C159.1 152.4 160.5 154.7 161.9 154.5C163.3 154.3 164.6 151.5 166.0 151.5C167.4 151.5 168.7 154.8 170.1 154.5C171.5 154.2 173.1 150.7 174.3 149.9C175.6 149.1 176.5 150.1 177.6 149.9C178.7 149.7 179.7 148.8 180.9 148.7C182.1 148.6 183.6 149.9 185.0 149.5C186.4 149.1 187.7 148.2 189.1 146.2C190.5 144.1 191.8 138.1 193.2 137.2C194.6 136.2 195.7 140.2 197.4 140.5C199.1 140.8 201.5 138.8 203.2 138.8C204.8 138.8 206.1 139.9 207.3 140.5C208.5 141.1 209.4 142.2 210.6 142.6C211.8 142.9 213.3 141.7 214.7 142.6C216.1 143.5 217.4 146.9 218.8 147.9C220.2 148.9 221.3 148.4 223.0 148.7C224.7 149.0 227.1 150.0 228.7 149.5C230.3 149.0 231.2 145.8 232.4 145.9C233.7 146.1 235.0 149.9 236.2 150.4C237.4 150.9 238.4 149.1 239.5 149.2C240.6 149.3 241.7 152.0 242.8 151.2C243.9 150.4 245.2 146.1 246.1 144.6C247.0 143.1 247.5 141.6 248.5 142.0C249.5 142.4 250.5 146.7 251.9 147.2C253.3 147.7 255.5 144.7 257.1 145.1C258.7 145.5 260.2 149.6 261.5 149.8C262.8 150.0 263.7 146.1 265.0 146.3C266.3 146.5 268.1 150.6 269.3 151.0C270.5 151.4 271.2 148.2 272.4 148.6C273.5 149.0 274.8 153.1 276.2 153.3C277.6 153.5 279.2 150.0 280.6 149.8C282.1 149.6 283.4 152.3 284.9 152.0C286.4 151.7 288.2 148.2 289.8 148.0C291.4 147.8 293.1 150.5 294.5 150.7C295.9 150.9 296.6 149.0 297.9 149.3C299.2 149.6 300.9 152.8 302.3 152.7C303.8 152.6 305.1 149.1 306.6 148.9C308.1 148.7 309.9 151.9 311.3 151.5C312.8 151.1 314.1 146.5 315.3 146.3C316.6 146.1 317.4 149.8 318.8 150.3C320.2 150.8 322.1 149.7 324.0 149.3C325.9 148.9 328.4 148.3 330.0 148.0C331.6 147.7 332.4 148.3 333.5 147.2C334.6 146.0 335.6 142.6 336.6 141.1C337.6 139.6 338.4 139.1 339.6 138.2C340.8 137.2 342.3 137.4 343.6 135.4C344.9 133.4 346.2 129.5 347.4 126.4C348.6 123.3 349.8 120.8 350.9 116.8C352.0 112.8 353.1 107.2 354.3 102.1C355.5 97.0 356.8 91.2 357.8 86.4C358.8 81.6 359.8 75.9 360.4 73.4C361.0 70.9 361.2 70.5 361.6 71.2C362.0 71.9 362.3 73.2 363.0 77.8C363.7 82.4 364.6 91.9 365.6 98.6C366.6 105.2 367.8 111.3 369.1 117.7C370.4 124.1 371.9 132.0 373.4 136.8C374.8 141.6 376.4 144.0 377.8 146.3C379.2 148.6 380.5 149.4 382.1 150.7C383.7 152.0 385.7 152.9 387.3 154.1C388.9 155.2 389.9 156.7 391.6 157.6C393.3 158.5 396.2 159.0 397.7 159.3C399.2 159.6 399.7 159.5 400.7 159.5C401.7 159.6 402.5 159.0 403.7 159.6C404.9 160.2 406.8 162.8 408.0 163.0C409.2 163.2 409.9 161.0 410.9 161.0C411.9 161.0 412.8 162.7 413.8 162.9C414.8 163.1 415.7 162.1 416.7 162.2C417.7 162.4 418.6 163.7 419.6 163.9C420.6 164.1 421.5 164.0 422.5 163.6C423.4 163.3 424.3 162.1 425.3 161.9C426.3 161.7 427.2 162.2 428.2 162.4C429.2 162.6 430.1 163.2 431.1 163.3C432.1 163.4 433.3 162.9 434.5 163.1C435.6 163.3 436.7 164.7 437.8 164.7C439.0 164.8 440.0 163.7 441.2 163.3C442.4 162.9 443.6 162.9 444.9 162.6C446.1 162.3 447.3 161.5 448.5 161.6C449.7 161.7 450.9 162.6 452.1 163.2C453.3 163.7 454.5 164.4 455.7 164.8C456.9 165.2 458.1 165.6 459.3 165.7C460.5 165.9 461.8 165.6 462.9 165.6C464.0 165.6 464.8 166.1 465.8 165.9C466.8 165.7 467.7 164.7 468.7 164.4C469.7 164.2 470.6 164.5 471.6 164.3C472.6 164.1 473.3 163.0 474.5 163.3C475.7 163.6 477.6 165.6 478.8 165.9C480.0 166.2 480.7 165.1 481.7 165.0C482.7 164.9 483.6 165.2 484.6 165.2C485.6 165.3 486.4 165.6 487.5 165.3C488.6 165.0 489.9 164.1 491.1 163.7C492.3 163.2 493.6 163.0 494.7 162.7C495.8 162.4 496.6 162.2 497.6 162.1C498.6 162.0 499.5 162.1 500.5 162.4C501.5 162.7 502.3 164.5 503.4 163.9C504.4 163.3 505.7 158.8 506.8 158.7C507.9 158.6 508.9 162.7 510.0 163.3C511.1 163.9 512.1 162.4 513.1 162.5C514.1 162.6 515.2 163.6 516.2 163.9C517.2 164.3 518.2 164.4 519.3 164.5C520.4 164.6 521.7 164.6 522.9 164.7C524.1 164.8 525.3 165.3 526.5 165.1C527.7 164.9 528.7 164.1 529.9 163.7C531.0 163.3 532.1 162.7 533.2 162.7C534.3 162.7 535.3 163.5 536.4 163.8C537.4 164.2 538.5 164.8 539.5 164.8C540.5 164.8 541.4 163.8 542.4 163.7C543.4 163.7 544.3 164.4 545.3 164.6C546.3 164.8 547.2 164.8 548.2 164.8C549.2 164.7 550.1 164.5 551.1 164.5C552.1 164.5 553.3 165.0 554.5 164.9C555.6 164.7 556.7 163.6 557.8 163.5C559.0 163.3 560.0 163.7 561.2 163.9C562.4 164.1 563.6 164.4 564.8 164.8C566.0 165.1 567.3 166.3 568.4 166.2C569.5 166.1 570.3 164.5 571.3 164.3C572.3 164.2 573.2 165.3 574.2 165.1C575.2 165.0 576.1 163.8 577.1 163.5C578.1 163.3 579.0 163.6 580.0 163.8C581.0 163.9 581.7 164.1 582.9 164.5C584.1 164.9 586.0 165.8 587.2 166.2C588.4 166.6 589.1 167.1 590.1 166.7C591.1 166.3 592.0 164.1 593.0 163.8C594.0 163.6 594.8 164.6 595.9 165.1C597.0 165.6 598.3 166.5 599.5 166.8C600.7 167.2 601.9 167.2 603.1 167.4C604.3 167.6 605.5 167.7 606.7 167.8C607.9 167.8 609.2 167.9 610.3 167.7C611.4 167.5 612.2 166.9 613.2 166.8C614.2 166.6 615.1 166.8 616.1 166.6C617.1 166.5 617.9 165.6 619.0 165.6C620.1 165.6 621.4 166.3 622.6 166.4C623.8 166.6 625.1 166.5 626.2 166.5C627.3 166.5 628.1 166.9 629.1 166.7C630.1 166.5 631.0 165.4 632.0 165.3C633.0 165.2 633.9 165.9 634.9 166.2C635.9 166.5 636.8 166.6 637.8 167.0C638.8 167.4 639.7 168.4 640.7 168.5C641.7 168.6 642.6 167.9 643.6 167.6C644.5 167.3 645.5 166.9 646.4 166.8C647.4 166.7 648.3 167.0 649.3 167.1C650.3 167.2 651.2 167.4 652.2 167.6C653.2 167.8 654.1 168.4 655.1 168.2C656.1 168.0 657.0 166.9 658.0 166.6C659.0 166.3 659.9 166.1 660.9 166.2C661.9 166.3 662.9 167.6 663.9 167.5C664.9 167.4 666.0 165.8 667.0 165.8C668.0 165.8 669.0 167.5 670.0 167.7C671.0 167.9 672.1 167.1 673.1 167.0C674.1 166.9 675.1 167.3 676.2 167.2C677.2 167.1 678.2 166.1 679.2 166.5C680.3 166.9 681.3 169.3 682.3 169.6C683.3 169.9 684.2 169.0 685.4 168.3C686.6 167.6 688.0 165.7 689.2 165.3C690.5 164.9 692.0 165.8 693.1 165.9C694.2 166.0 694.9 166.0 695.8 166.0C696.7 166.0 697.6 165.8 698.5 166.1C699.5 166.4 700.4 167.9 701.3 168.0C702.2 168.2 703.0 167.4 704.0 167.1C705.0 166.8 706.1 165.8 707.1 166.1C708.1 166.4 709.1 168.6 710.2 168.9C711.2 169.2 712.2 168.0 713.2 168.1C714.3 168.1 715.3 168.7 716.3 169.0C717.3 169.2 718.4 169.6 719.4 169.6C720.4 169.6 721.5 168.8 722.5 168.8C723.5 168.8 724.5 169.7 725.6 169.6C726.6 169.4 727.6 168.1 728.6 168.0C729.7 167.8 730.7 168.4 731.7 168.5C732.7 168.6 733.8 168.2 734.8 168.3C735.8 168.4 736.9 168.6 737.9 169.0C738.9 169.3 740.0 170.7 741.0 170.5C742.0 170.3 743.1 167.8 744.1 167.7C745.1 167.6 746.2 169.4 747.2 169.9C748.2 170.4 749.2 170.6 750.3 170.5C751.3 170.5 752.3 169.9 753.3 169.5C754.4 169.2 755.4 168.5 756.4 168.3C757.4 168.1 758.2 168.0 759.1 168.1C760.0 168.2 760.9 168.8 761.8 168.9C762.7 168.9 763.6 168.2 764.5 168.4C765.4 168.7 766.3 170.0 767.2 170.2C768.1 170.3 769.0 169.4 769.9 169.3C770.8 169.1 771.7 169.1 772.6 169.1C773.5 169.1 774.4 169.2 775.3 169.3C776.2 169.3 777.1 169.6 778.0 169.6C778.9 169.6 779.9 169.5 780.8 169.5C781.7 169.5 782.7 169.6 783.6 169.6C784.6 169.5 785.5 168.8 786.4 169.1C787.4 169.4 788.3 171.5 789.2 171.4C790.2 171.3 791.1 169.1 792.0 168.4C793.0 167.7 793.9 167.0 794.9 167.2C795.8 167.5 796.7 169.4 797.7 169.9C798.6 170.3 799.5 169.8 800.5 169.9C801.4 170.0 802.3 170.4 803.3 170.4C804.2 170.4 805.2 170.0 806.1 170.0C807.0 170.0 807.9 170.3 808.9 170.2C809.9 170.1 810.9 169.8 812.0 169.7C813.0 169.6 814.0 169.8 815.0 169.6C816.1 169.5 817.1 168.9 818.1 169.0C819.1 169.1 820.2 170.0 821.2 170.0C822.2 170.1 823.3 169.3 824.3 169.3C825.3 169.2 826.4 169.5 827.4 169.6C828.4 169.8 829.5 169.9 830.5 170.2C831.5 170.5 832.2 171.6 833.1 171.6C834.0 171.7 834.8 170.9 835.7 170.6C836.6 170.2 837.5 169.2 838.3 169.4C839.2 169.6 840.1 171.6 840.9 171.9C841.8 172.1 842.7 171.0 843.5 170.7C844.4 170.3 845.3 169.9 846.1 169.6C847.0 169.4 847.9 169.1 848.8 169.2C849.6 169.3 850.5 170.2 851.4 170.2C852.2 170.3 853.1 169.5 854.0 169.4C854.8 169.2 855.7 169.2 856.6 169.2C857.4 169.1 858.3 168.9 859.2 169.0C860.1 169.0 860.9 169.4 861.8 169.5C862.7 169.7 863.4 169.8 864.4 169.9C865.4 170.0 866.5 170.2 867.5 169.9C868.5 169.7 869.6 168.5 870.6 168.3C871.6 168.1 872.7 168.6 873.7 168.6C874.7 168.6 875.8 168.2 876.8 168.5C877.8 168.7 878.9 169.9 879.9 170.2C880.9 170.5 881.8 170.5 882.7 170.4C883.7 170.3 884.6 169.7 885.6 169.6C886.5 169.5 887.5 169.8 888.4 169.9C889.3 169.9 890.3 170.1 891.2 169.8C892.2 169.6 893.1 168.7 894.1 168.5C895.0 168.2 896.0 168.3 896.9 168.3C897.8 168.3 898.6 168.3 899.5 168.4C900.4 168.4 901.2 168.7 902.1 168.6C903.0 168.6 903.9 167.9 904.7 168.0C905.6 168.2 906.5 169.2 907.3 169.6C908.2 169.9 909.1 170.3 910.0 170.3C910.8 170.3 911.7 169.7 912.6 169.6C913.4 169.4 914.3 169.4 915.2 169.5C916.0 169.5 916.9 169.6 917.8 169.6C918.6 169.6 919.5 169.3 920.4 169.4C921.3 169.5 922.1 170.2 923.0 170.2C923.9 170.2 924.8 169.6 925.7 169.6C926.6 169.5 927.5 169.9 928.3 169.8C929.2 169.8 930.1 169.5 931.0 169.5C931.9 169.5 932.8 169.9 933.7 169.8C934.6 169.7 935.5 168.8 936.4 168.9C937.3 169.0 938.1 170.1 939.0 170.3C939.9 170.5 940.8 170.2 941.7 170.0C942.6 169.8 943.5 169.4 944.4 169.1C945.3 168.8 946.2 168.1 947.1 168.2C947.9 168.4 948.8 169.6 949.7 169.9C950.6 170.2 952.0 169.9 952.4 169.9" fill="none" stroke="#0000ff" stroke-width="4.7" stroke-linejoin="round" stroke-linecap="round"/>
<path d="M105.2 595.5C106.0 594.4 108.3 589.8 109.8 588.7C111.3 587.6 112.8 589.5 114.3 588.7C115.8 587.9 117.3 584.7 118.8 584.1C120.3 583.5 121.9 585.9 123.4 585.3C124.9 584.7 126.4 580.9 127.9 580.3C129.4 579.7 130.7 583.0 132.4 581.9C134.1 580.8 136.3 576.5 138.1 573.9C139.9 571.2 141.5 567.1 143.1 566.0C144.7 564.9 145.9 569.6 147.7 567.1C149.5 564.6 152.2 555.9 154.0 551.2C155.8 546.5 157.1 542.7 158.6 538.7C160.1 534.7 161.8 532.9 163.1 527.4C164.4 521.9 165.4 513.9 166.5 505.8C167.6 497.7 168.9 486.4 169.9 478.6C170.9 470.9 171.9 463.0 172.6 459.3C173.3 455.6 173.5 456.1 174.0 456.3C174.5 456.5 175.0 456.3 175.6 460.4C176.2 464.5 176.9 472.6 177.8 480.9C178.7 489.2 180.0 502.1 181.2 510.4C182.3 518.7 183.6 524.9 184.7 530.8C185.8 536.6 186.5 542.1 187.6 545.5C188.7 548.9 190.1 548.9 191.5 551.2C192.9 553.5 194.4 558.2 196.0 559.2C197.6 560.2 199.7 556.5 201.2 556.9C202.7 557.3 203.7 560.6 205.1 561.4C206.5 562.1 208.1 560.5 209.6 561.4C211.1 562.3 212.6 566.5 214.2 566.6C215.8 566.7 217.7 562.2 219.4 562.1C221.1 562.0 222.1 564.6 224.4 566.0C226.7 567.4 230.4 569.8 233.4 570.5C236.4 571.2 240.0 570.1 242.5 570.5C245.0 570.9 246.5 573.1 248.2 572.8C249.8 572.4 250.7 569.3 252.4 568.4C254.1 567.5 256.5 568.2 258.6 567.6C260.7 567.0 262.9 564.0 264.8 564.7C266.7 565.4 268.2 571.4 269.8 571.6C271.4 571.8 273.1 566.0 274.7 565.9C276.3 565.8 278.1 570.6 279.7 570.9C281.3 571.2 282.5 566.8 284.1 567.6C285.8 568.4 287.9 575.2 289.6 575.8C291.3 576.3 292.6 571.2 294.5 570.9C296.4 570.6 298.4 573.1 300.7 574.1C303.0 575.1 305.7 577.1 308.2 576.6C310.7 576.1 313.1 571.0 315.6 570.9C318.1 570.8 320.5 575.3 323.0 575.8C325.5 576.3 328.5 576.0 330.4 574.1C332.3 572.2 332.9 567.2 334.2 564.7C335.4 562.2 336.8 559.0 337.9 559.2C339.0 559.4 340.1 563.4 341.1 565.9C342.1 568.4 343.0 573.5 344.1 574.1C345.2 574.7 346.7 571.4 347.8 569.6C348.9 567.8 349.8 563.9 351.0 563.4C352.2 562.9 353.9 566.4 355.2 566.7C356.5 567.0 357.2 564.8 358.9 565.2C360.5 565.6 363.1 567.5 365.1 569.1C367.1 570.8 368.9 575.0 370.8 575.1C372.7 575.2 374.0 570.9 376.3 569.6C378.6 568.4 382.4 568.4 384.9 567.6C387.4 566.8 389.2 564.4 391.1 564.7C393.0 565.0 394.2 568.0 396.1 569.6C398.0 571.2 400.2 573.9 402.3 574.1C404.4 574.3 406.6 571.9 408.5 570.9C410.4 569.9 411.8 568.0 413.4 568.4C415.0 568.8 416.3 572.9 418.4 573.3C420.5 573.7 423.3 571.6 425.8 570.9C428.3 570.2 431.1 569.2 433.2 569.1C435.3 569.0 436.3 569.8 438.2 570.1C440.1 570.4 442.8 571.8 444.4 570.9C446.0 570.0 446.7 566.5 448.1 564.7C449.5 562.9 451.2 560.0 452.6 560.2C454.1 560.4 455.5 564.1 456.8 565.9C458.1 567.7 459.1 570.3 460.5 570.9C461.9 571.5 463.8 568.9 465.4 569.6C467.0 570.3 468.5 574.4 470.4 575.1C472.3 575.9 474.4 574.3 476.6 574.1C478.8 573.9 481.7 573.6 483.7 574.1C485.7 574.6 486.8 577.5 488.6 577.1C490.5 576.7 492.7 572.9 494.8 571.6C496.9 570.3 499.1 568.7 501.0 569.1C502.9 569.5 504.2 572.7 506.0 574.1C507.8 575.5 509.8 577.5 511.7 577.6C513.5 577.7 515.4 575.6 517.1 574.6C518.8 573.6 520.7 573.7 522.1 571.6C523.5 569.5 524.8 564.5 525.8 562.2C526.8 559.9 527.3 557.5 528.3 557.7C529.2 557.9 530.5 561.4 531.5 563.4C532.5 565.4 532.7 567.8 534.4 569.6C536.1 571.4 539.8 572.5 541.9 574.1C544.0 575.7 545.4 578.4 546.8 579.0C548.2 579.6 549.0 577.1 550.5 577.6C552.0 578.1 553.6 581.4 555.5 582.0C557.4 582.6 560.2 581.3 561.7 581.5C563.2 581.7 563.0 583.4 564.2 583.3C565.4 583.2 567.2 580.2 569.1 580.8C571.0 581.4 573.4 586.4 575.3 587.0C577.2 587.6 578.8 585.4 580.3 584.5C581.8 583.6 582.4 580.9 584.0 581.5C585.6 582.1 587.7 586.8 590.2 588.2C592.7 589.6 596.5 590.2 598.8 589.9C601.1 589.6 601.7 586.2 603.8 586.5C605.9 586.8 608.9 591.5 611.2 591.9C613.5 592.3 615.1 589.5 617.4 588.9C619.7 588.3 622.5 587.9 624.8 588.2C627.1 588.5 628.7 591.0 631.0 590.7C633.3 590.4 636.2 586.7 638.5 586.5C640.8 586.3 642.2 588.6 644.7 589.4C647.2 590.2 649.8 591.0 653.3 591.4C656.8 591.8 662.4 591.7 665.7 591.9C669.0 592.1 671.2 592.1 673.1 592.4C675.0 592.7 675.2 594.7 676.9 593.9C678.5 593.1 681.1 588.2 683.0 587.5C684.9 586.8 686.3 588.8 688.0 589.4C689.7 590.0 691.4 591.2 693.0 591.4C694.6 591.6 696.2 590.3 697.9 590.7C699.5 591.1 701.0 593.5 702.9 593.9C704.8 594.3 707.6 593.5 709.1 593.2C710.6 592.9 710.4 591.9 711.8 592.2C713.2 592.5 715.7 594.7 717.3 594.9C718.9 595.1 719.9 593.2 721.3 593.2C722.6 593.2 724.0 595.0 725.4 594.9C726.8 594.8 727.9 592.6 729.5 592.7C731.1 592.8 733.0 595.1 735.0 595.4C737.0 595.7 739.5 594.4 741.8 594.3C744.1 594.2 746.3 595.0 748.6 594.6C750.9 594.2 753.1 591.7 755.4 591.6C757.7 591.5 759.7 593.8 762.2 594.3C764.7 594.8 767.9 594.4 770.4 594.6C772.9 594.8 774.7 595.9 777.2 595.7C779.7 595.5 782.5 593.9 785.4 593.5C788.3 593.1 792.3 592.9 794.9 593.2C797.5 593.5 798.8 595.7 800.9 595.4C803.0 595.1 805.6 591.3 807.2 591.3C808.8 591.3 809.6 594.1 810.7 595.4C811.8 596.7 812.8 599.2 814.0 599.2C815.2 599.2 816.7 596.0 818.1 595.4C819.5 594.8 820.7 595.7 822.2 595.4C823.7 595.1 825.3 593.4 827.1 593.5C828.9 593.6 830.5 596.1 833.1 596.2C835.7 596.3 840.0 594.2 842.6 594.3C845.2 594.3 847.0 596.6 848.9 596.5C850.8 596.4 852.2 593.9 854.3 593.5C856.4 593.1 859.6 594.3 861.7 594.3C863.8 594.3 865.3 593.2 867.1 593.5C868.9 593.8 870.8 595.9 872.6 596.0C874.4 596.1 876.2 594.0 878.0 594.3C879.8 594.6 881.5 597.4 883.5 597.6C885.5 597.8 887.9 596.0 890.3 595.4C892.7 594.8 895.4 593.6 897.9 593.8C900.4 594.0 902.9 596.3 905.3 596.8C907.7 597.3 909.8 597.6 912.1 596.8C914.4 596.0 917.1 593.5 918.9 592.2C920.7 590.9 921.4 589.2 923.0 589.2C924.6 589.2 926.8 591.6 928.4 592.2C930.0 592.8 931.1 592.3 932.5 592.7C933.9 593.1 935.1 594.5 936.6 594.6C938.1 594.7 939.7 593.1 941.5 593.5C943.3 593.9 945.6 596.3 947.5 596.8C949.4 597.2 952.1 596.3 953.0 596.2" fill="none" stroke="#000" stroke-width="5" stroke-linejoin="round" stroke-linecap="round"/>
<g fill="#000">
<rect x="80.3" y="1.6" width="5.5" height="645.6"/>
<rect x="80.3" y="1.6" width="875.6" height="5"/>
<rect x="80.3" y="642" width="875.6" height="5.2"/>
<rect x="951.1" y="1.6" width="4.8" height="655.4"/>
<rect x="103.2" y="645" width="5.2" height="6"/>
<rect x="159.7" y="645" width="5.2" height="12"/>
<rect x="216.2" y="645" width="5.2" height="6"/>
<rect x="272.7" y="645" width="5.2" height="12"/>
<rect x="329.2" y="645" width="5.2" height="6"/>
<rect x="385.7" y="645" width="5.2" height="12"/>
<rect x="442.2" y="645" width="5.2" height="6"/>
<rect x="498.7" y="645" width="5.2" height="12"/>
<rect x="555.2" y="645" width="5.2" height="6"/>
<rect x="611.7" y="645" width="5.2" height="12"/>
<rect x="668.2" y="645" width="5.2" height="6"/>
<rect x="724.7" y="645" width="5.2" height="12"/>
<rect x="781.2" y="645" width="5.2" height="6"/>
<rect x="837.7" y="645" width="5.2" height="12"/>
<rect x="894.2" y="645" width="5.2" height="6"/>
</g>
<text transform="translate(162.6 687.3) scale(1.000 1.050)" font-family="'Liberation Sans', Arial, sans-serif" font-size="27.7" text-anchor="middle">10</text>
<text transform="translate(275.6 687.3) scale(1.000 1.050)" font-family="'Liberation Sans', Arial, sans-serif" font-size="27.7" text-anchor="middle">20</text>
<text transform="translate(388.6 687.3) scale(1.000 1.050)" font-family="'Liberation Sans', Arial, sans-serif" font-size="27.7" text-anchor="middle">30</text>
<text transform="translate(501.6 687.3) scale(1.000 1.050)" font-family="'Liberation Sans', Arial, sans-serif" font-size="27.7" text-anchor="middle">40</text>
<text transform="translate(614.6 687.3) scale(1.000 1.050)" font-family="'Liberation Sans', Arial, sans-serif" font-size="27.7" text-anchor="middle">50</text>
<text transform="translate(727.6 687.3) scale(1.000 1.050)" font-family="'Liberation Sans', Arial, sans-serif" font-size="27.7" text-anchor="middle">60</text>
<text transform="translate(840.6 687.3) scale(1.000 1.050)" font-family="'Liberation Sans', Arial, sans-serif" font-size="27.7" text-anchor="middle">70</text>
<text transform="translate(953.6 687.3) scale(1.000 1.050)" font-family="'Liberation Sans', Arial, sans-serif" font-size="27.7" text-anchor="middle">80</text>
<text transform="translate(519.0 737.9) scale(1.000 1.050)" font-family="'Liberation Sans', Arial, sans-serif" font-size="33.2" text-anchor="middle">Position, 2θ (Degree)</text>
<text transform="translate(28.5 325.0) rotate(-90) scale(1.000 1.050)" font-family="'Liberation Sans', Arial, sans-serif" font-size="33.4" text-anchor="middle">Intensity, (a.u.)</text>
<text transform="translate(206.5 127.3) rotate(-90) scale(1.000 1.050)" font-family="'Liberation Sans', Arial, sans-serif" font-size="30.3" text-anchor="start">(001)</text>
<text transform="translate(206.5 41.2) rotate(-90) scale(0.910 1.150)" font-family="'Liberation Sans', Arial, sans-serif" font-size="30" text-anchor="start">#</text>
<text transform="translate(373.0 56.8) rotate(-90) scale(0.910 1.150)" font-family="'Liberation Sans', Arial, sans-serif" font-size="30" text-anchor="start">#</text>
<text transform="translate(421.2 119.1) rotate(-90) scale(1.000 1.050)" font-family="'Liberation Sans', Arial, sans-serif" font-size="30.3" text-anchor="start">(002)</text>
<text transform="translate(211.7 317.8) rotate(-90) scale(1.000 1.050)" font-family="'Liberation Sans', Arial, sans-serif" font-size="30.3" text-anchor="start">(001)</text>
<text transform="translate(213.6 237.6) rotate(-90) scale(0.910 1.150)" font-family="'Liberation Sans', Arial, sans-serif" font-size="30" text-anchor="start">#</text>
<text transform="translate(384.2 223.6) rotate(-90) scale(0.910 1.150)" font-family="'Liberation Sans', Arial, sans-serif" font-size="30" text-anchor="start">#</text>
<text transform="translate(410.2 293.4) rotate(-90) scale(1.000 1.050)" font-family="'Liberation Sans', Arial, sans-serif" font-size="30.3" text-anchor="start">(002)</text>
<text transform="translate(225.0 482.0) rotate(-90) scale(1.000 1.050)" font-family="'Liberation Sans', Arial, sans-serif" font-size="30.3" text-anchor="start">(111)</text>
<text transform="translate(354.2 538.8) rotate(-90) scale(1.000 1.050)" font-family="'Liberation Sans', Arial, sans-serif" font-size="30.3" text-anchor="start">(400)</text>
<text transform="translate(468.3 545.3) rotate(-90) scale(1.000 1.050)" font-family="'Liberation Sans', Arial, sans-serif" font-size="30.3" text-anchor="start">(440)</text>
<text transform="translate(542.2 550.8) rotate(-90) scale(1.000 1.050)" font-family="'Liberation Sans', Arial, sans-serif" font-size="30.3" text-anchor="start">(622)</text>
<text transform="translate(176.1 447.5) scale(1.000 1.000)" font-family="'Liberation Serif', 'Times New Roman', serif" font-size="35" text-anchor="middle">*</text>
<text transform="translate(341.0 457.4) scale(1.000 1.000)" font-family="'Liberation Serif', 'Times New Roman', serif" font-size="35" text-anchor="middle">*</text>
<text transform="translate(456.2 457.4) scale(1.000 1.000)" font-family="'Liberation Serif', 'Times New Roman', serif" font-size="35" text-anchor="middle">*</text>
<text transform="translate(531.2 470.5) scale(1.000 1.000)" font-family="'Liberation Serif', 'Times New Roman', serif" font-size="35" text-anchor="middle">*</text>
<g stroke-linecap="round" fill="none">
<line x1="727.4" y1="27.1" x2="787.4" y2="27.1" stroke="#0000ff" stroke-width="5.2"/>
<line x1="727.1" y1="60.3" x2="787.8" y2="60.3" stroke="#ff0000" stroke-width="3.4"/>
<line x1="727.4" y1="93.8" x2="787.4" y2="93.8" stroke="#000" stroke-width="5.4"/>
</g>
<text transform="translate(795.0 36.1) scale(1.000 1.050)" font-family="'Liberation Sans', Arial, sans-serif" font-size="26.95" text-anchor="start">GQDs\C3N4</text>
<text transform="translate(795.5 69.8) scale(1.000 1.050)" font-family="'Liberation Sans', Arial, sans-serif" font-size="26.7" text-anchor="start">C3N4</text>
<text transform="translate(795.5 103.5) scale(1.000 1.050)" font-family="'Liberation Sans', Arial, sans-serif" font-size="27" text-anchor="start">GQDs</text>
<text transform="translate(821.6 240.8) scale(1.000 1.050)" font-family="'Liberation Sans', Arial, sans-serif" font-size="30" font-weight="bold" text-anchor="start">GDQs</text>
<text transform="translate(798.4 286.0) scale(1.100 1.120)" font-family="'Liberation Sans', Arial, sans-serif" font-size="30" font-weight="bold" text-anchor="start">#</text>
<text transform="translate(820.6 286.0) scale(1.000 1.050)" font-family="'Liberation Sans', Arial, sans-serif" font-size="30" font-weight="bold" text-anchor="start">C3N4</text>
<text transform="translate(807.0 246.6) scale(1.000 1.000)" font-family="'Liberation Serif', 'Times New Roman', serif" font-size="36" font-weight="bold" text-anchor="middle">*</text>
</svg>
</body></html>
